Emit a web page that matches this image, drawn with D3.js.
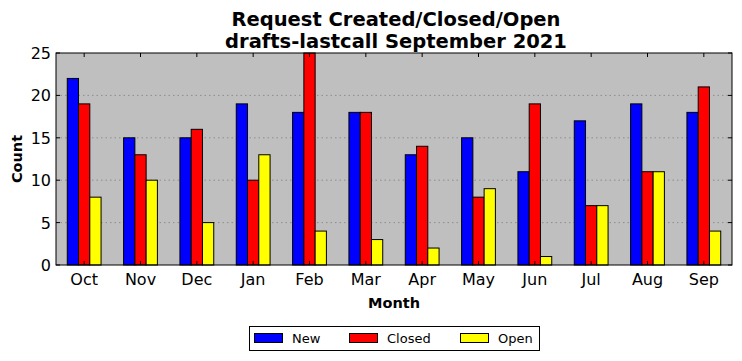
<!DOCTYPE html>
<html><head><meta charset="utf-8">
<script src="https://cdn.jsdelivr.net/npm/d3@7/dist/d3.min.js"></script>
<style>body{margin:0;background:#fff}svg{display:block}</style>
</head><body><svg id="c" width="742" height="361"></svg>
<script>
const months = ["Oct","Nov","Dec","Jan","Feb","Mar","Apr","May","Jun","Jul","Aug","Sep"];
const seriesNames = ["New","Closed","Open"];
const colors = ["#0000ff","#ff0000","#ffff00"];
const newVals = [22,15,15,19,18,18,13,15,11,17,19,18];
const closedVals = [19,13,16,10,25,18,14,8,19,7,11,21];
const openVals = [8,10,5,13,4,3,2,9,1,7,11,4];
const yTicks = [0,5,10,15,20,25];
const series = [newVals, closedVals, openVals];

const svg = d3.select("#c");
const L = 56, R = 732, T = 53, B = 265;
const font = "DejaVu Sans";
const x = d3.scaleBand().domain(months).range([L, R]).padding(0);
const y = d3.scaleLinear().domain([0,25]).range([B, T]);
const bw = x.bandwidth()*0.2;

svg.append("rect").attr("x",L).attr("y",T).attr("width",R-L).attr("height",B-T).attr("fill","#bfbfbf");

// grid
svg.append("g").selectAll("line").data(yTicks.slice(1,-1)).join("line")
  .attr("x1",L).attr("x2",R).attr("y1",d=>y(d)).attr("y2",d=>y(d))
  .attr("stroke","#808080").attr("stroke-width",0.8).attr("stroke-dasharray","1.5,3");

// bars
series.forEach((vals,si)=>{
  svg.append("g").selectAll("rect").data(vals).join("rect")
    .attr("x",(d,i)=>x(months[i]) + x.bandwidth()/2 - 1.5*bw + si*bw)
    .attr("y",d=>y(d)).attr("width",bw).attr("height",d=>B-y(d))
    .attr("fill",colors[si]).attr("stroke","#000").attr("stroke-width",1);
});

// frame
svg.append("rect").attr("x",L).attr("y",T).attr("width",R-L).attr("height",B-T)
  .attr("fill","none").attr("stroke","#000").attr("stroke-width",1);

// ticks (inside)
const ax = svg.append("g");
months.forEach(m=>{
  const cx = x(m)+x.bandwidth()/2;
  ax.append("line").attr("x1",cx).attr("x2",cx).attr("y1",B).attr("y2",B-4).attr("stroke","#000");
  ax.append("line").attr("x1",cx).attr("x2",cx).attr("y1",T).attr("y2",T+4).attr("stroke","#000");
  ax.append("text").attr("x",cx).attr("y",B+20).attr("text-anchor","middle")
    .attr("font-family",font).attr("font-size",16).text(m);
});
yTicks.forEach(t=>{
  ax.append("line").attr("x1",L).attr("x2",L+4).attr("y1",y(t)).attr("y2",y(t)).attr("stroke","#000");
  ax.append("line").attr("x1",R).attr("x2",R-4).attr("y1",y(t)).attr("y2",y(t)).attr("stroke","#000");
  ax.append("text").attr("x",L-5).attr("y",y(t)+6).attr("text-anchor","end")
    .attr("font-family",font).attr("font-size",16).text(t);
});

// titles
svg.append("text").attr("x",(L+R)/2+2).attr("y",26).attr("text-anchor","middle")
  .attr("font-family",font).attr("font-weight","bold").attr("font-size",19.5).text("Request Created/Closed/Open");
svg.append("text").attr("x",(L+R)/2+2).attr("y",48).attr("text-anchor","middle")
  .attr("font-family",font).attr("font-weight","bold").attr("font-size",19.5).text("drafts-lastcall September 2021");
svg.append("text").attr("x",(L+R)/2).attr("y",308).attr("text-anchor","middle")
  .attr("font-family",font).attr("font-weight","bold").attr("font-size",14.5).text("Month");
svg.append("text").attr("transform",`translate(21.5,${(T+B)/2}) rotate(-90)`).attr("text-anchor","middle")
  .attr("font-family",font).attr("font-weight","bold").attr("font-size",14.5).text("Count");

// legend
const lg = svg.append("g");
lg.append("rect").attr("x",249.5).attr("y",326.5).attr("width",290).attr("height",24)
  .attr("fill","#fff").attr("stroke","#000").attr("stroke-width",1);
const lx = [254,349,460];
seriesNames.forEach((n,i)=>{
  lg.append("rect").attr("x",lx[i]+0.5).attr("y",333.5).attr("width",28).attr("height",9)
    .attr("fill",colors[i]).attr("stroke","#000");
  lg.append("text").attr("x",lx[i]+38).attr("y",343).attr("font-family",font).attr("font-size",13).text(n);
});
</script></body></html>
